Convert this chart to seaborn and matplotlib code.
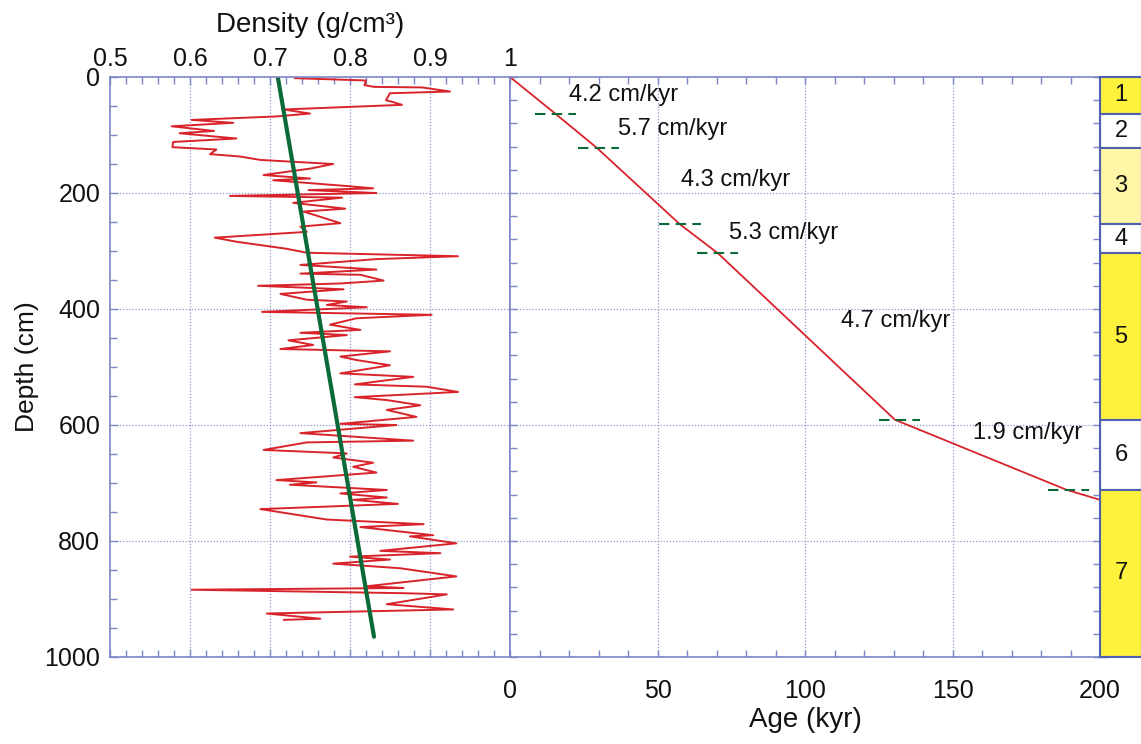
import matplotlib
matplotlib.use("Agg")
import matplotlib.pyplot as plt
from matplotlib.ticker import MultipleLocator, FixedLocator
import numpy as np
import pandas as pd
import seaborn as sns

# ---------------- data ----------------
density_depth = [2, 6, 14, 17, 18, 25, 28, 40, 43, 48, 56, 63, 68, 74, 79, 85, 93, 97, 106, 112,
                 121, 125, 133, 137, 143, 150, 158, 169, 175, 178, 188, 192, 195, 200, 205, 208,
                 217, 227, 232, 252, 258, 267, 277, 284, 296, 303, 309, 314, 324, 332, 339, 341,
                 351, 356, 360, 366, 374, 384, 387, 393, 397, 405, 410, 416, 427, 436, 441, 445,
                 454, 462, 469, 473, 482, 488, 497, 511, 517, 530, 534, 543, 552, 557, 566, 574,
                 586, 598, 600, 614, 627, 630, 643, 649, 656, 665, 672, 682, 695, 699, 703, 712,
                 718, 725, 729, 736, 745, 763, 771, 776, 790, 792, 804, 817, 821, 827, 832, 839,
                 847, 861, 878, 881, 884, 890, 892, 909, 918, 925, 934, 936]
density_value = [0.731, 0.820, 0.818, 0.830, 0.890, 0.925, 0.850, 0.845, 0.853, 0.865, 0.717, 0.750,
                 0.708, 0.602, 0.654, 0.577, 0.630, 0.587, 0.658, 0.579, 0.578, 0.633, 0.625, 0.662,
                 0.688, 0.779, 0.750, 0.692, 0.750, 0.704, 0.796, 0.829, 0.748, 0.833, 0.650, 0.790,
                 0.729, 0.794, 0.742, 0.788, 0.738, 0.746, 0.631, 0.658, 0.720, 0.746, 0.935, 0.833,
                 0.738, 0.833, 0.738, 0.813, 0.842, 0.788, 0.685, 0.792, 0.713, 0.746, 0.796, 0.771,
                 0.821, 0.690, 0.902, 0.808, 0.775, 0.813, 0.738, 0.796, 0.723, 0.754, 0.713, 0.850,
                 0.788, 0.808, 0.850, 0.788, 0.879, 0.806, 0.896, 0.935, 0.806, 0.846, 0.888, 0.846,
                 0.883, 0.788, 0.858, 0.738, 0.879, 0.746, 0.692, 0.796, 0.779, 0.829, 0.804, 0.833,
                 0.708, 0.758, 0.725, 0.846, 0.788, 0.846, 0.804, 0.860, 0.688, 0.771, 0.892, 0.813,
                 0.904, 0.875, 0.933, 0.838, 0.913, 0.800, 0.850, 0.779, 0.863, 0.933, 0.821, 0.867,
                 0.602, 0.867, 0.921, 0.846, 0.929, 0.696, 0.763, 0.717]

trend_depth = [2, 965]
trend_density = [0.71, 0.83]

age_model_age = [0, 15.3, 29.4, 57.6, 70.5, 130.5, 188.8, 200]
age_model_depth = [0, 63, 122, 254, 304, 591, 712, 729]

tie_age = [15.5, 30.0, 57.6, 70.3, 132.0, 189.3]
tie_depth = [63, 122, 254, 304, 591, 712]

rate_labels = ["4.2 cm/kyr", "5.7 cm/kyr", "4.3 cm/kyr", "5.3 cm/kyr", "4.7 cm/kyr", "1.9 cm/kyr"]
rate_label_age = [38.6, 55.0, 76.6, 92.9, 130.8, 175.6]
rate_label_depth = [31, 89, 177, 269, 421, 613]

stage_names = ["1", "2", "3", "4", "5", "6", "7"]
stage_top = [0, 63, 122, 254, 304, 591, 712]
stage_bottom = [63, 122, 254, 304, 591, 712, 1000]
stage_colors = ["#fff23c", "#ffffff", "#fff6a6", "#ffffff", "#fff23c", "#ffffff", "#fff23c"]

density_ticks = [0.5, 0.6, 0.7, 0.8, 0.9, 1.0]
density_ticklabels = ["0.5", "0.6", "0.7", "0.8", "0.9", "1"]
depth_ticks = [0, 200, 400, 600, 800, 1000]
age_ticks = [0, 50, 100, 150, 200]

# ---------------- style ----------------
sns.set_style("white")
plt.rcParams['font.family'] = ['Liberation Sans', 'DejaVu Sans']
plt.rcParams['text.color'] = '#111111'
plt.rcParams['axes.labelcolor'] = '#111111'
plt.rcParams['xtick.labelcolor'] = '#111111'
plt.rcParams['ytick.labelcolor'] = '#111111'
spine_c = "#7a86c6"
grid_c = "#8d96d2"
red = "#d8232a"
green = "#0b6b38"
txt = "#111111"

W, H = 1141, 744
fig = plt.figure(figsize=(W / 100, H / 100), dpi=100)

def box(x0, x1, y0, y1):
    return [x0 / W, 1 - y1 / H, (x1 - x0) / W, (y1 - y0) / H]

ax1 = fig.add_axes(box(110, 510, 77, 657))
ax2 = fig.add_axes(box(510, 1100, 77, 657))
ax3 = fig.add_axes(box(1100, 1142, 77, 657))

for ax in (ax1, ax2, ax3):
    for s in ax.spines.values():
        s.set_color(spine_c)
        s.set_linewidth(1.2)
        s.set_visible(True)
    ax.set_facecolor("white")

# ---- density panel ----
df_d = pd.DataFrame({"density": density_value, "depth": density_depth})
sns.lineplot(data=df_d, x="density", y="depth", sort=False, estimator=None,
             color=red, lw=1.4, ax=ax1)
df_t = pd.DataFrame({"density": trend_density, "depth": trend_depth})
sns.lineplot(data=df_t, x="density", y="depth", sort=False, estimator=None,
             color=green, lw=3.0, ax=ax1)
ax1.set_xlim(0.5, 1.0)
ax1.set_ylim(1000, 0)
ax1.xaxis.set_major_locator(FixedLocator(density_ticks))
ax1.set_xticklabels(density_ticklabels)
ax1.xaxis.set_minor_locator(MultipleLocator(0.02))
ax1.yaxis.set_major_locator(FixedLocator(depth_ticks))
ax1.yaxis.set_minor_locator(MultipleLocator(50))
ax1.xaxis.tick_top()
ax1.xaxis.set_label_position("top")
ax1.tick_params(axis="x", which="both", top=True, bottom=True, labeltop=True, labelbottom=False,
                direction="in", color=spine_c, labelsize=18, pad=4)
ax1.tick_params(axis="y", which="both", left=True, right=False, direction="in",
                color=spine_c, labelsize=18, pad=7)
ax1.tick_params(which="major", length=6, width=1)
ax1.tick_params(which="minor", length=5, width=1)
ax1.set_xlabel("Density (g/cm³)", fontsize=20, labelpad=11, color=txt)
ax1.set_ylabel("Depth (cm)", fontsize=19, labelpad=4, color=txt)
for v in density_ticks[1:-1]:
    ax1.axvline(v, color=grid_c, lw=0.9, ls=(0, (1, 1.5)), zorder=0)
for v in depth_ticks[1:-1]:
    ax1.axhline(v, color=grid_c, lw=0.9, ls=(0, (1, 1.5)), zorder=0)

# ---- age panel ----
df_a = pd.DataFrame({"age": age_model_age, "depth": age_model_depth})
sns.lineplot(data=df_a, x="age", y="depth", sort=False, estimator=None,
             color=red, lw=1.3, ax=ax2)
for a, d in zip(tie_age, tie_depth):
    ax2.hlines(d, a - 7, a + 7, color=green, lw=1.5, ls=(0, (5, 3)), zorder=3)
for t, a, d in zip(rate_labels, rate_label_age, rate_label_depth):
    ax2.text(a, d, t, ha="center", va="center", fontsize=17, color=txt)
ax2.set_xlim(0, 200)
ax2.set_ylim(1000, 0)
ax2.xaxis.set_major_locator(FixedLocator(age_ticks))
ax2.xaxis.set_minor_locator(MultipleLocator(10))
ax2.yaxis.set_major_locator(FixedLocator(depth_ticks))
ax2.yaxis.set_minor_locator(MultipleLocator(40))
ax2.tick_params(axis="x", which="both", top=True, bottom=True, labeltop=False, labelbottom=True,
                direction="in", color=spine_c, labelsize=18, pad=16)
ax2.tick_params(axis="y", which="both", left=True, right=True, labelleft=False, labelright=False,
                direction="in", color=spine_c)
ax2.tick_params(which="both", length=5, width=1)
ax2.set_xlabel("Age (kyr)", fontsize=20, labelpad=3, color=txt)
ax2.set_ylabel("")
for v in age_ticks[1:-1]:
    ax2.axvline(v, color=grid_c, lw=0.9, ls=(0, (1, 1.5)), zorder=0)
for v in depth_ticks[1:-1]:
    ax2.axhline(v, color=grid_c, lw=0.9, ls=(0, (1, 1.5)), zorder=0)

# ---- stage column ----
heights = [b - t for t, b in zip(stage_top, stage_bottom)]
ax3.bar([0.5] * len(stage_names), heights, bottom=stage_top, width=1.0,
        color=stage_colors, edgecolor="#5060b0", linewidth=1.5, zorder=2)
for n, t, b in zip(stage_names, stage_top, stage_bottom):
    ax3.text(0.5, (t + b) / 2, n, ha="center", va="center", fontsize=17, color=txt, zorder=3)
ax3.set_xlim(0, 1)
ax3.set_ylim(1000, 0)
ax3.set_xticks([])
ax3.yaxis.set_major_locator(MultipleLocator(40))
ax3.tick_params(axis="y", which="both", left=True, right=False, labelleft=False,
                direction="in", color=spine_c, length=5, width=1)
for s in ax3.spines.values():
    s.set_color("#5060b0")
    s.set_linewidth(1.5)
ax3.set_xlabel("")
ax3.set_ylabel("")

fig.savefig("out.png", dpi=100)
